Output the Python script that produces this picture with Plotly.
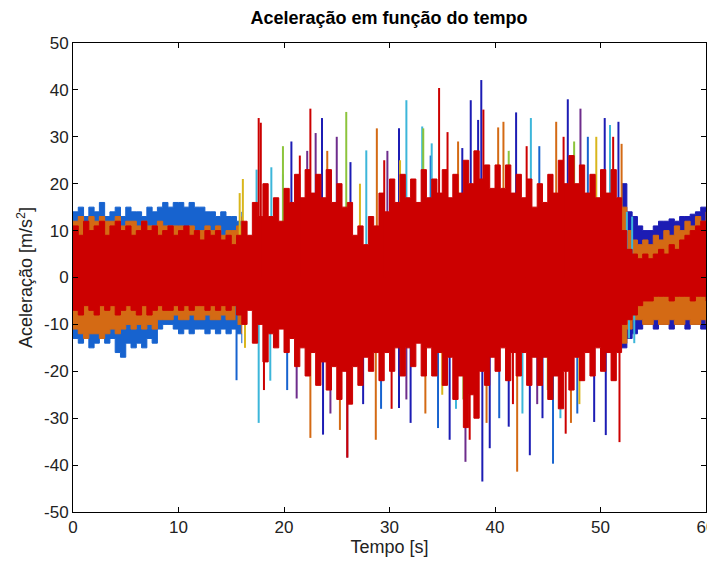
import numpy as np
import plotly.graph_objects as go

# ---------------- data ----------------
# envelope sampling grids (s)
t_all = np.arange(0, 60.5, 0.5)          # 121 samples
t_early = np.arange(0, 16.5, 0.5)        # 33 samples (0..16 s)
t_late = np.arange(52, 60.5, 0.5)        # 17 samples (52..60 s)

# dominant (red) channel envelope, m/s^2
red_hi = ([11, 9, 12, 10, 11, 12, 9, 11, 12, 10, 11, 9, 10, 12, 10, 11,
           9, 10, 11, 9, 10, 11, 9, 10, 8, 10, 9, 10, 8, 9, 7, 9] +
          [12, 9, 16, 13, 20, 13, 17, 12, 19, 16, 22, 17, 23, 18, 22, 17, 23, 16, 20, 15,
           16, 9, 11, 7, 13, 11, 18, 14, 21, 16, 22, 17, 21, 16, 23, 17, 21, 18, 23, 17,
           22, 18, 25, 20, 27, 21, 24, 19, 24, 19, 24, 18, 22, 17, 21, 15, 20, 16, 22, 18,
           25, 20, 26, 20, 24, 18, 22, 17, 23, 18, 23, 17] +
          [10, 6, 5, 4, 5, 4, 5, 6, 5, 7, 6, 8, 9, 10, 11, 12, 12])
red_lo = ([-7, -8, -6, -7, -8, -6, -7, -6, -8, -7, -6, -7, -8, -6, -8, -7,
           -6, -7, -7, -6, -7, -6, -7, -6, -6, -7, -6, -7, -6, -7, -6, -8] +
          [-10, -7, -14, -10, -18, -12, -15, -11, -16, -13, -19, -15, -21, -16, -23, -18, -24, -19, -26, -20,
           -27, -19, -23, -17, -20, -16, -22, -16, -20, -15, -21, -15, -19, -14, -21, -15, -21, -16, -23, -17,
           -26, -21, -32, -25, -30, -20, -23, -17, -20, -15, -22, -16, -21, -16, -23, -17, -23, -17, -26, -21,
           -28, -20, -24, -17, -22, -16, -21, -15, -20, -16, -22, -16] +
          [-10, -9, -8, -6, -5, -5, -4, -4, -4, -5, -4, -4, -4, -5, -4, -4, -5])

# blue and orange channels, visible before 16 s and after 52 s
blue_hi_early = [14, 15, 13, 15, 14, 16, 13, 14, 15, 13, 15, 14, 14, 13, 15, 14, 15,
                 16, 15, 16, 16, 15, 16, 15, 15, 14, 14, 13, 14, 13, 13, 12, 14]
blue_lo_early = [-13, -14, -13, -15, -14, -13, -14, -13, -16, -17, -14, -15, -14, -15, -13, -14, -11,
                 -10, -10, -11, -12, -11, -12, -11, -11, -12, -11, -12, -11, -12, -11, -12, -14]
orange_hi_early = [12, 13, 11, 13, 12, 13, 12, 12, 13, 11, 12, 12, 11, 12, 11, 11, 12,
                   11, 11, 11, 11, 10, 11, 10, 10, 11, 10, 11, 9, 10, 10, 11, 13]
orange_lo_early = [-11, -12, -13, -12, -12, -13, -12, -11, -12, -11, -10, -11, -10, -11, -10, -11, -9,
                   -9, -9, -8, -9, -9, -8, -9, -9, -8, -9, -9, -8, -9, -9, -10, -12]
blue_hi_late = [20, 14, 13, 11, 10, 10, 11, 12, 12, 12.5, 12, 13, 13, 13.5, 14, 15, 15]
blue_lo_late = [-15, -13, -12, -11, -10, -10, -11, -10, -10, -11, -10, -10, -11, -10, -10, -11, -10]
orange_hi_late = [15, 10, 8, 7, 8, 7, 9, 8, 10, 9, 11, 10, 12, 11, 13, 12, 14]
orange_lo_late = [-14, -11, -9, -9, -10, -10, -9, -10, -10, -9, -10, -10, -9, -10, -10, -9, -10]

# individual peaks per channel: times (s) and peak values (m/s^2)
navy_t = [23.6, 20.7, 30.9, 37.7, 38.7, 42.0, 46.9, 50.4, 51.7, 38.4, 36.9, 26.3,
          23.7, 30.9, 32.0, 35.7, 38.8, 41.3, 43.3, 49.4, 50.5, 39.5, 27.5, 44.5]
navy_v = [34, 29, 31.8, 37.8, 42.1, 35.2, 38, 34, 33.2, 33.6, 27.6, 24.6,
          -33.5, -27.8, -31, -34.6, -43.5, -31.8, -37.9, -30.8, -33.6, -36.4, -27, -30]
blue_t = [33.9, 44.2, 48.8, 15.5, 34.6, 45.5, 20.3, 29.2, 47.8, 40.4]
blue_v = [26, 28, 30, -21.9, -32.1, -39.7, -24, -28, -29, -30]
cyan_t = [17.4, 18.8, 19.9, 27.8, 31.6, 33.1, 34.0, 43.4, 50.9, 52.5, 53.0,
          17.6, 18.7, 36.3, 42.6, 46.2, 52.7, 53.2]
cyan_v = [23, 23.5, 22, 27.1, 37.8, 32.2, 28.6, 34, 32.5, 14, 13,
          -31, -22, -28, -29, -30, -13, -14]
yellow_t = [16.1, 15.8, 27.2, 31.0, 49.6, 16.3, 35.0, 48.0]
yellow_v = [21, 18, 20, 25, 30, -15, -25, -27]
orange_t = [28.8, 40.8, 45.8, 52.0, 40.3, 24.1, 36.5,
            22.5, 25.3, 28.7, 42.1, 33.4, 39.2, 47.2]
orange_v = [31.8, 33.2, 33.2, 28.5, 32, 27, 29,
            -34.2, -32.5, -34.6, -41.4, -29, -31, -31]
purple_t = [23.0, 25.0, 48.1, 22.2, 29.8, 21.2, 26.0, 37.2, 24.4, 31.6, 44.0]
purple_v = [30.8, 30, 36, 27, 27, -25.8, -38.4, -39.3, -29, -26, -27]
green_t = [19.9, 33.2, 25.9, 41.3, 47.5, 37.0, 45.0]
green_v = [28, 31.8, 35.3, 27, 29, -26, -24]
red_t = [17.6, 22.5, 34.7, 35.5, 38.9, 21.5, 29.5, 43.0, 46.5, 51.2, 17.8,
         26.0, 37.6, 46.7, 51.8, 30.2, 41.7, 18.1]
red_v = [34, 36, 40.4, 31, 35.8, 26, 25, 28, 30, 30, 33,
         -38.4, -34.6, -33.3, -35.1, -28, -27, -24]

x_ticks = [0, 10, 20, 30, 40, 50, 60]
y_ticks = [-50, -40, -30, -20, -10, 0, 10, 20, 30, 40, 50]

# ---------------- styles ----------------
C_BLUE = "#1763CF"
C_NAVY = "#1C1CB4"
C_ORANGE = "#D46A14"
C_RED = "#CC0000"
C_CYAN = "#3CB6DA"
C_YELLOW = "#D9B61C"
C_PURPLE = "#6E2D8C"
C_GREEN = "#8CC43C"

fig = go.Figure()


def band(t, lo, hi, color):
    fig.add_trace(go.Scatter(x=t, y=lo, mode="lines", line=dict(color=color, width=1, shape="hv"),
                             hoverinfo="skip", showlegend=False))
    fig.add_trace(go.Scatter(x=t, y=hi, mode="lines", line=dict(color=color, width=1, shape="hv"),
                             fill="tonexty", fillcolor=color, hoverinfo="skip", showlegend=False))


def spikes(ts, vs, color):
    xs, ys = [], []
    for t, v in zip(ts, vs):
        xs += [t, t, None]
        ys += [0, v, None]
    fig.add_trace(go.Scatter(x=xs, y=ys, mode="lines", line=dict(color=color, width=2),
                             hoverinfo="skip", showlegend=False))


band(t_early, blue_lo_early, blue_hi_early, C_BLUE)
band(t_late, blue_lo_late, blue_hi_late, C_NAVY)
band(t_early, orange_lo_early, orange_hi_early, C_ORANGE)
band(t_late, orange_lo_late, orange_hi_late, C_ORANGE)
spikes(blue_t, blue_v, C_BLUE)
spikes(navy_t, navy_v, C_NAVY)
spikes(cyan_t, cyan_v, C_CYAN)
spikes(yellow_t, yellow_v, C_YELLOW)
spikes(orange_t, orange_v, C_ORANGE)
spikes(purple_t, purple_v, C_PURPLE)
spikes(green_t, green_v, C_GREEN)
band(t_all, red_lo, red_hi, C_RED)
spikes(red_t, red_v, C_RED)

FONT = "Liberation Sans, Arial, sans-serif"
axis_common = dict(showline=True, linecolor="black", linewidth=1, mirror="ticks",
                   ticks="inside", ticklen=5, tickcolor="black", showgrid=False,
                   zeroline=False, automargin=False, ticklabeloverflow="allow",
                   tickfont=dict(family=FONT, size=17, color="#222"))

# page has an 8 px body margin, so the figure is sized 8 px smaller
fig.update_layout(
    width=707, height=557,
    margin=dict(l=65, r=9, t=35, b=53),
    paper_bgcolor="white", plot_bgcolor="white",
    hovermode=False,
    title=dict(text="<b>Aceleração em função do tempo</b>", x=0.539, xanchor="center",
               y=0.982, yanchor="middle", font=dict(family=FONT, size=18, color="black")),
    xaxis=dict(range=[0, 60], tickvals=x_ticks, ticktext=[str(v) for v in x_ticks],
               title=dict(text="Tempo [s]", font=dict(family=FONT, size=18, color="#222"), standoff=2),
               **axis_common),
    yaxis=dict(range=[-50, 50], tickvals=y_ticks, ticktext=[str(v) for v in y_ticks],
               title=dict(text="Aceleração [m/s<sup>2</sup>]", font=dict(family=FONT, size=18, color="#222"),
                          standoff=6),
               **axis_common),
)

fig.write_html("out.html")
